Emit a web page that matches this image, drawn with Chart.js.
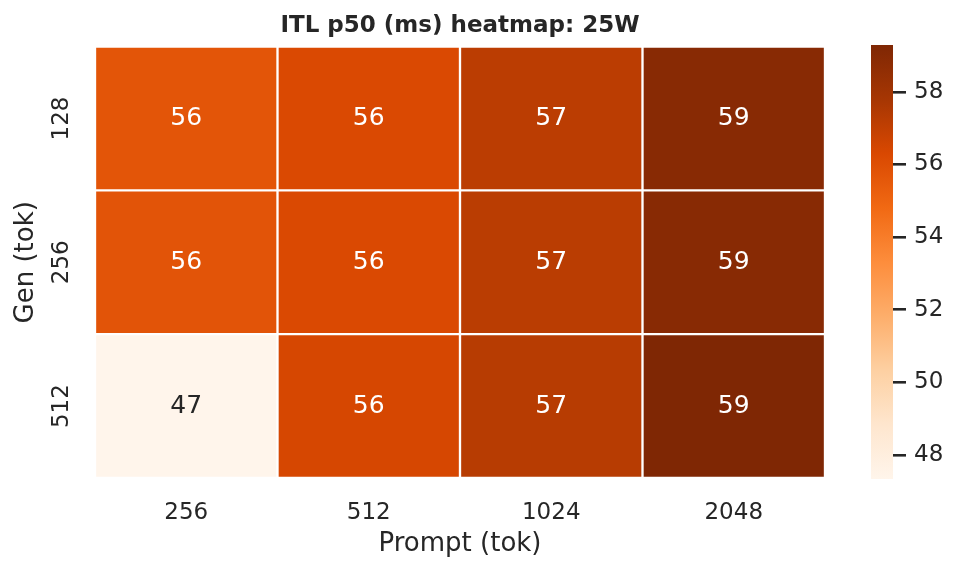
<!DOCTYPE html>
<html lang="en">
<head>
    <meta charset="UTF-8">
    <title>ITL p50 heatmap</title>
    <style>
        body {
            margin: 0;
            padding: 0;
            background-color: #fff;
            width: 958px;
            height: 573px;
            overflow: hidden;
            position: relative;
        }
        #heat {
            position: absolute;
            left: 0;
            top: 0;
        }
        #cbar {
            position: absolute;
            left: 850px;
            top: 0;
        }
    </style>
    <script src="https://cdn.jsdelivr.net/npm/chart.js"></script>
</head>
<body>
    <canvas id="heat" width="958" height="573"></canvas>
    <canvas id="cbar" width="108" height="573"></canvas>
    <script>
        // data
        const promptLabels = ['256', '512', '1024', '2048'];
        const genLabels = ['128', '256', '512'];
        const itl128 = [55.71, 56.24, 57.19, 58.95];
        const itl256 = [55.75, 56.25, 57.20, 58.95];
        const itl512 = [47.34, 56.40, 57.30, 59.29];
        const cbarTicks = [48, 50, 52, 54, 56, 58];

        const rows = [itl128, itl256, itl512];
        const allVals = rows.flat();
        const vmin = Math.min(...allVals);
        const vmax = Math.max(...allVals);

        const FONT = 'DejaVu Sans';
        const INK = '#262626';

        // matplotlib "Oranges"
        const oranges = ['#fff5eb', '#fee6ce', '#fdd0a2', '#fdae6b', '#fd8d3c',
                         '#f16913', '#d94801', '#a63603', '#7f2704'];

        function hexRgb(h) {
            return [parseInt(h.slice(1, 3), 16), parseInt(h.slice(3, 5), 16), parseInt(h.slice(5, 7), 16)];
        }

        function colorRgb(v) {
            let t = (v - vmin) / (vmax - vmin);
            t = Math.max(0, Math.min(1, t));
            const pos = t * (oranges.length - 1);
            const i = Math.min(Math.floor(pos), oranges.length - 2);
            const f = pos - i;
            const a = hexRgb(oranges[i]), b = hexRgb(oranges[i + 1]);
            return a.map((c, k) => Math.round(c + (b[k] - c) * f));
        }

        function colorFor(v) {
            const c = colorRgb(v);
            return `rgb(${c[0]}, ${c[1]}, ${c[2]})`;
        }

        function textColorFor(v) {
            const lin = colorRgb(v).map(c => {
                c = c / 255;
                return c <= 0.03928 ? c / 12.92 : Math.pow((c + 0.055) / 1.055, 2.4);
            });
            const lum = 0.2126 * lin[0] + 0.7152 * lin[1] + 0.0722 * lin[2];
            return lum > 0.408 ? INK : '#ffffff';
        }

        const datasets = rows.map((vals, r) => ({
            label: genLabels[r],
            data: vals.map(() => [r, r + 1]),
            values: vals,
            backgroundColor: vals.map(colorFor),
            borderColor: '#ffffff',
            borderWidth: 1.5,
            borderSkipped: false,
            grouped: false,
            barPercentage: 1,
            categoryPercentage: 1
        }));

        const cellText = {
            id: 'cellText',
            afterDatasetsDraw(chart) {
                const ctx = chart.ctx;
                ctx.save();
                ctx.font = `25px "${FONT}"`;
                ctx.textAlign = 'center';
                ctx.textBaseline = 'middle';
                chart.data.datasets.forEach((ds, di) => {
                    chart.getDatasetMeta(di).data.forEach((bar, i) => {
                        const p = bar.getProps(['x', 'y', 'base'], true);
                        const v = ds.values[i];
                        ctx.fillStyle = textColorFor(v);
                        ctx.fillText(Math.round(v).toString(), p.x, (p.y + p.base) / 2);
                    });
                });
                ctx.restore();
            }
        };

        // seaborn rotates the row labels; Chart.js won't rotate y ticks, so draw them here
        const rowLabels = {
            id: 'rowLabels',
            afterDraw(chart) {
                const ctx = chart.ctx;
                const ys = chart.scales.y;
                ctx.save();
                ctx.font = `23px "${FONT}"`;
                ctx.fillStyle = INK;
                ctx.textAlign = 'center';
                ctx.textBaseline = 'middle';
                genLabels.forEach((lab, i) => {
                    ctx.save();
                    ctx.translate(62.5, ys.getPixelForValue(i + 0.5));
                    ctx.rotate(-Math.PI / 2);
                    ctx.fillText(lab, 0, 0);
                    ctx.restore();
                });
                ctx.restore();
            }
        };

        new Chart(document.getElementById('heat'), {
            type: 'bar',
            data: { labels: promptLabels, datasets: datasets },
            plugins: [cellText, rowLabels],
            options: {
                responsive: false,
                animation: false,
                layout: { padding: { left: 0, right: 133, top: 0, bottom: 0 } },
                plugins: {
                    legend: { display: false },
                    tooltip: { enabled: false },
                    title: {
                        display: true,
                        text: 'ITL p50 (ms) heatmap: 25W',
                        color: INK,
                        fullSize: false,
                        font: { family: FONT, size: 23, weight: 'bold' },
                        padding: { top: 12, bottom: 7 }
                    }
                },
                scales: {
                    x: {
                        type: 'category',
                        grid: { display: false, drawTicks: false },
                        border: { display: false },
                        ticks: {
                            color: INK,
                            font: { family: FONT, size: 23 },
                            padding: 21,
                            maxRotation: 0
                        },
                        title: {
                            display: true,
                            text: 'Prompt (tok)',
                            color: INK,
                            font: { family: FONT, size: 26 },
                            padding: { top: 0, bottom: 13 }
                        },
                        afterFit(scale) { scale.height = 95; }
                    },
                    y: {
                        type: 'linear',
                        min: 0,
                        max: 3,
                        reverse: true,
                        grid: { display: false, drawTicks: false },
                        border: { display: false },
                        ticks: { display: false },
                        title: {
                            display: true,
                            text: 'Gen (tok)',
                            color: INK,
                            font: { family: FONT, size: 26 },
                            padding: { top: 11, bottom: 0 }
                        },
                        afterFit(scale) { scale.width = 95; }
                    }
                }
            }
        });

        // colour bar
        function cbarGradient(context) {
            const area = context.chart.chartArea;
            if (!area) return oranges[4];
            const g = context.chart.ctx.createLinearGradient(0, area.bottom, 0, area.top);
            oranges.forEach((c, i) => g.addColorStop(i / (oranges.length - 1), c));
            return g;
        }

        new Chart(document.getElementById('cbar'), {
            type: 'bar',
            data: {
                labels: [''],
                datasets: [{
                    data: [[vmin, vmax]],
                    backgroundColor: cbarGradient,
                    borderWidth: 0,
                    barPercentage: 1,
                    categoryPercentage: 1
                }]
            },
            options: {
                responsive: false,
                animation: false,
                layout: { padding: { left: 21, top: 45, bottom: 94, right: 0 } },
                plugins: { legend: { display: false }, tooltip: { enabled: false } },
                scales: {
                    x: { display: false },
                    y: {
                        position: 'right',
                        min: vmin,
                        max: vmax,
                        afterBuildTicks(scale) {
                            scale.ticks = cbarTicks.map(v => ({ value: v }));
                        },
                        grid: {
                            drawOnChartArea: false,
                            drawTicks: true,
                            tickLength: 13,
                            color: INK,
                            lineWidth: 2.6
                        },
                        border: { display: false },
                        ticks: {
                            color: INK,
                            font: { family: FONT, size: 23 },
                            padding: 8
                        },
                        afterFit(scale) { scale.width = 65; }
                    }
                }
            }
        });
    </script>
</body>
</html>
